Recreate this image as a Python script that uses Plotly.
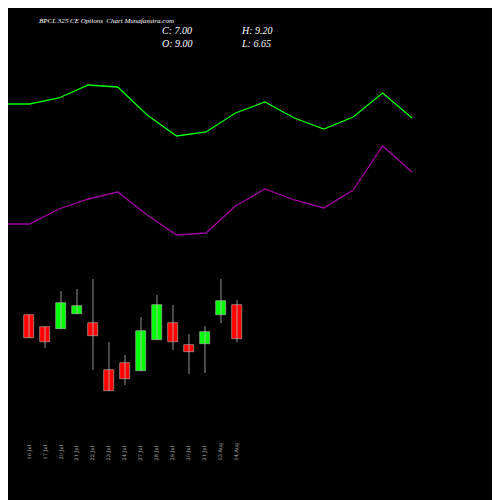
import plotly.graph_objects as go

dates = ["16 Jul", "17 Jul", "20 Jul", "21 Jul", "22 Jul", "23 Jul", "24 Jul",
         "27 Jul", "28 Jul", "29 Jul", "30 Jul", "31 Jul", "03 Aug", "04 Aug"]
opens = [8.41, 7.71, 7.59, 8.47, 7.94, 5.18, 5.59, 5.12, 6.94, 7.94, 6.65, 6.71, 8.41, 9.00]
closes = [7.06, 6.82, 9.12, 8.94, 7.18, 3.94, 4.65, 7.47, 9.00, 6.82, 6.24, 7.41, 9.24, 7.00]
highs = [8.41, 7.71, 9.82, 9.94, 10.53, 6.82, 6.06, 8.29, 9.59, 9.00, 7.29, 7.76, 10.53, 9.29]
lows = [7.06, 6.47, 7.59, 8.47, 5.18, 3.94, 4.29, 5.12, 6.94, 6.35, 4.94, 5.00, 7.94, 6.82]

# indicator lines (plotted on their own scale)
green_line = [396, 396, 402, 415, 413, 385, 364, 368, 387, 398, 382, 371, 383, 407, 382]
purple_line = [276, 276, 291, 301, 308, 285, 265, 267, 294, 311, 300, 292, 310, 354, 328]

fig = go.Figure()

fig.add_trace(go.Scatter(x=list(range(len(green_line))), y=green_line, mode="lines",
                         line=dict(color="#00ff00", width=1.3), xaxis="x2", yaxis="y2"))
fig.add_trace(go.Scatter(x=list(range(len(purple_line))), y=purple_line, mode="lines",
                         line=dict(color="#a000a0", width=1.3), xaxis="x2", yaxis="y2"))

colors = ["#00ff00" if c >= o else "#ff0000" for o, c in zip(opens, closes)]

# wicks
for i in range(len(dates)):
    fig.add_trace(go.Scatter(x=[i, i], y=[lows[i], highs[i]], mode="lines",
                             line=dict(color="#bbbbbb", width=0.8), xaxis="x", yaxis="y"))

# bodies
fig.add_trace(go.Bar(
    x=list(range(len(dates))), y=[c - o for o, c in zip(opens, closes)], base=opens,
    marker=dict(color=colors, line=dict(color="#bbbbbb", width=0.6)), width=0.6,
    xaxis="x", yaxis="y",
))

for i, d in enumerate(dates):
    fig.add_annotation(x=i, y=0.092, xref="x", yref="paper", text=d, showarrow=False,
                       textangle=-90, font=dict(family="DejaVu Serif", size=5, color="#bbbbbb"))

fig.add_annotation(x=0.058, y=0.987, xref="paper", yref="paper", xanchor="left", text="<i>BPCL 325 CE Options  Chart Munafasutra.com</i>",
                   showarrow=False, font=dict(family="Liberation Serif", size=7, color="white"))
fig.add_annotation(x=0.304, y=0.97, xref="paper", yref="paper", xanchor="left", align="left",
                   text="<i>C: 7.00<br>O: 9.00</i>", showarrow=False,
                   font=dict(family="Liberation Serif", size=10, color="white"))
fig.add_annotation(x=0.462, y=0.97, xref="paper", yref="paper", xanchor="left", align="left",
                   text="<i>H: 9.20<br>L: 6.65</i>", showarrow=False,
                   font=dict(family="Liberation Serif", size=10, color="white"))

fig.update_layout(
    width=500, height=500, margin=dict(l=0, r=0, t=0, b=0),
    paper_bgcolor="black", plot_bgcolor="black", showlegend=False, bargap=0,
    xaxis=dict(range=[-1.3125, 29.94], visible=False),
    yaxis=dict(range=[-2.94, 26.47], visible=False),
    xaxis2=dict(range=[0.272, 17.26], visible=False, anchor="y2", overlaying="x"),
    yaxis2=dict(range=[-8, 492], visible=False, overlaying="y", anchor="x2"),
)

fig.write_html("out.html")
